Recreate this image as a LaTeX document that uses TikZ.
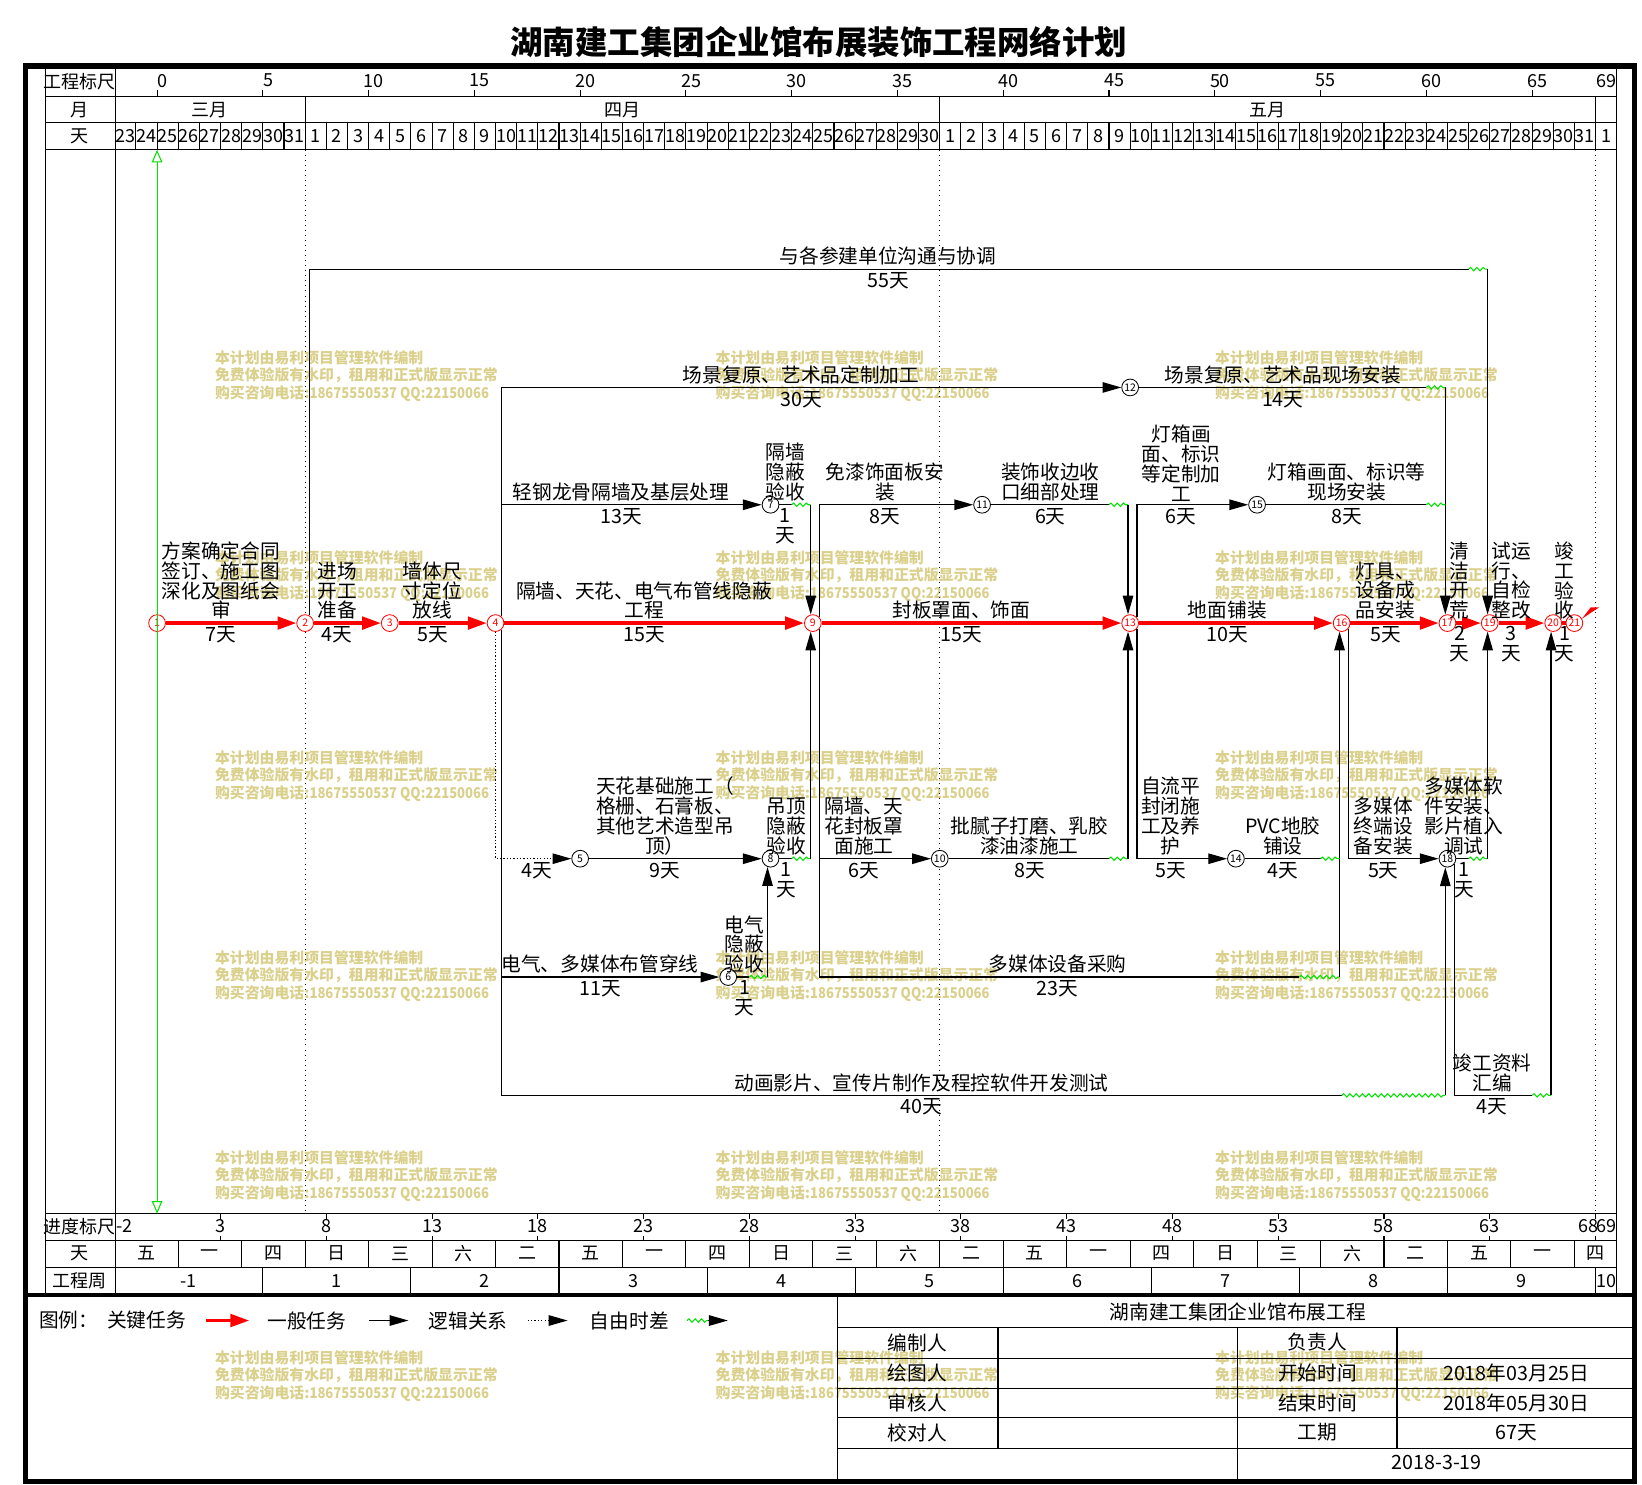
\documentclass[tikz,border=0pt]{standalone}
\usepackage{fontspec}
\setmainfont{Noto Sans CJK SC}
\usetikzlibrary{arrows.meta, decorations.pathmorphing}
\definecolor{wmark}{RGB}{218,208,140}
\definecolor{nowgreen}{RGB}{0,225,0}

\begin{document}
\begin{tikzpicture}[
  x=0.5pt, y=-0.5pt,
  >={Triangle[length=9pt,width=5pt]},
  every node/.style={font=\fontsize{9.4}{9.5}\selectfont, inner sep=0pt, align=center},
  ev/.style={circle, draw=black, fill=white, line width=0.4pt, minimum size=8pt, font=\fontsize{5}{5}\selectfont},
  crev/.style={ev, draw=red, text=red},
  job/.style={draw=black, line width=0.6pt},
  crit/.style={draw=red, line width=1.6pt, -{Triangle[length=9pt,width=6pt]}},
  flt/.style={draw=nowgreen, line width=0.5pt, decorate, decoration={snake, segment length=3pt, amplitude=0.8pt}},
  lnk/.style={draw=black, line width=0.6pt, densely dotted},
  lab/.style={anchor=south, yshift=1.5pt},
  dur/.style={anchor=north, yshift=-1.5pt},
  grid/.style={draw=black, line width=0.5pt},
  hdr/.style={font=\fontsize{8.6}{9}\selectfont},
  wm/.style={text=wmark, anchor=north west, align=left, font=\fontsize{7.1}{8.5}\selectfont\bfseries}]

  \useasboundingbox (0,0) rectangle (1568,1418);

  \foreach \wx in {205,683,1160}
    \foreach \wy in {334,525,716,907,1098,1289}
      \node[wm] (wm-\wx-\wy) at (\wx,\wy) {本计划由易利项目管理软件编制\\免费体验版有水印，租用和正式版显示正常\\购买咨询电话:\scalebox{0.88}[1]{18675550537 QQ:22150066}};

  \node (title) at (782,40) {\fontsize{15.5}{16}\selectfont\bfseries 湖南建工集团企业馆布展装饰工程网络计划};

  % frame and scales
  \draw[grid] (43,63) rectangle (1544,1237);
  \foreach \y in {92,117,143,1159,1185,1210} \draw[grid] (43,\y) -- (1544,\y);
  \draw[grid] (110,63) -- (110,1237);
  \draw[line width=2.5pt] (24,63) rectangle (1561,1415);
  \draw[line width=2pt] (24,1237) -- (1561,1237);

  \node[hdr] (sc-top) at (76,78) {工程标尺};
  \node[hdr] (mo) at (76,105) {月};
  \node[hdr] (dy) at (76,130) {天};
  \foreach \d in {0,5,...,65} {
    \draw[grid] ({150+20.2*\d},86) -- ({150+20.2*\d},92);
    \node[hdr] (top\d) at ({155+20.2*\d},77) {\d};
  }
  \node[hdr, anchor=east] (top69) at (1544,77) {69};
  \foreach \x in {291.4,897.4,1523.6} \draw[grid] (\x,92) -- (\x,117);
  \node[hdr] (m3) at (200.5,105) {三月};
  \node[hdr] (m4) at (594.4,105) {四月};
  \node[hdr] (m5) at (1210.5,105) {五月};
  \foreach \d in {-1,...,68} \draw[grid] ({150+20.2*\d},117) -- ({150+20.2*\d},143);
  \foreach \n in {23,...,31} \node[hdr] (mar\n) at ({160.1+20.2*(\n-25)},130) {\n};
  \foreach \n in {1,...,30} \node[hdr] (apr\n) at ({160.1+20.2*(\n+6)},130) {\n};
  \foreach \n in {1,...,31} \node[hdr] (may\n) at ({160.1+20.2*(\n+36)},130) {\n};
  \node[hdr] (jun1) at ({160.1+20.2*68},130) {1};

  \foreach \x in {291.4,897.4,1523.6} \draw[dotted, line width=0.4pt] (\x,143) -- (\x,1159);

  \node[hdr] (sc-bot) at (76,1171) {进度标尺};
  \node[hdr, anchor=west] (pb-2) at (111,1171) {-2};
  \foreach \d in {3,8,...,68} {
    \draw[grid] ({150+20.2*\d},1159) -- ++(0,5);
    \draw[grid] ({150+20.2*\d},1185) -- ++(0,-5);
  }
  \foreach \d in {3,8,...,63} \node[hdr] (pb\d) at ({150+20.2*\d},1171) {\d};
  \node[hdr, anchor=east] (pb68) at (1527,1171) {68};
  \node[hdr, anchor=east] (pb69) at (1544,1171) {69};

  \node[hdr] (wk) at (76,1197) {天};
  \foreach \w [count=\k from 0] in {五,一,四,日,三,六,二,五,一,四,日,三,六,二,五,一,四,日,三,六,二,五,一,四} {
    \pgfmathsetmacro\cx{min(139.9+60.6*\k,1523.6)}
    \node[hdr] (wd\k) at (\cx,1197) {\w};
  }
  \foreach \k in {0,...,22} \draw[grid] ({170.2+60.6*\k},1185) -- ({170.2+60.6*\k},1210);

  \node[hdr] (wkn) at (76,1223) {工程周};
  \foreach \x in {251,392.4,533.8,675.2,816.6,958,1099.4,1240.8,1382.2,1523.6} \draw[grid] (\x,1210) -- (\x,1237);
  \foreach \x/\w [count=\k] in {180.3/-1,321.7/1,463.1/2,604.5/3,745.9/4,887.3/5,1028.7/6,1170.1/7,1311.5/8,1452.9/9,1533.7/10}
    \node[hdr] (wn\k) at (\x,1223) {\w};

  % events
  \node[crev] (n1)  at (150,595)    {1};
  \node[crev] (n2)  at (291.4,595)  {2};
  \node[crev] (n3)  at (372.2,595)  {3};
  \node[crev] (n4)  at (473.2,595)  {4};
  \node[ev]   (n5)  at (554,820)    {5};
  \node[ev]   (n6)  at (695.4,933)  {6};
  \node[ev]   (n7)  at (735.8,482)  {7};
  \node[ev]   (n8)  at (735.8,820)  {8};
  \node[crev] (n9)  at (776.2,595)  {9};
  \node[ev]   (n10) at (897.4,820)  {10};
  \node[ev]   (n11) at (937.8,482)  {11};
  \node[ev]   (n12) at (1079.2,370) {12};
  \node[crev] (n13) at (1079.2,595) {13};
  \node[ev]   (n14) at (1180.2,820) {14};
  \node[ev]   (n15) at (1200.4,482) {15};
  \node[crev] (n16) at (1281.2,595) {16};
  \node[crev] (n17) at (1382.2,595) {17};
  \node[ev]   (n18) at (1382.2,820) {18};
  \node[crev] (n19) at (1422.6,595) {19};
  \node[crev] (n20) at (1483.2,595) {20};
  \node[crev] (n21) at (1503.4,595) {21};

  \path (n1) edge[crit] (n2)   (n2) edge[crit] (n3)   (n3) edge[crit] (n4)
        (n4) edge[crit] (n9)   (n9) edge[crit] (n13)  (n13) edge[crit] (n16)
        (n16) edge[crit] (n17) (n17) edge[crit] (n19) (n19) edge[crit] (n20)
        (n20) edge[crit,-] (n21);
  \fill[red] (n21.30) -- (1519,580) -- (1527,580) -- cycle;

  \draw[job] (n2.60) |- (1402.4,257) coordinate (f1);
  \draw[flt] (f1) -- (n19.104 |- f1);
  \draw[job,->] (n19.104 |- f1) -- (n19.104);

  \draw[job,->] (n4.50) |- (n12);
  \draw[job] (n12) -- (1362,370) coordinate (f2);
  \draw[flt] (f2) -- (n17.104 |- f2);
  \draw[job,->] (n17.104 |- f2) -- (n17.104);

  \draw[job,->] (n4.50) |- (n7);
  \draw[job] (n7) -- (756,482) coordinate (f3);
  \draw[flt] (f3) -- (n9.104 |- f3);
  \draw[job,->] (n9.104 |- f3) -- (n9.104);

  \draw[job,->] (n9.40) |- (n11);
  \draw[job] (n11) -- (1059,482) coordinate (f4);
  \draw[flt] (f4) -- (n13.104 |- f4);
  \draw[job,->] (n13.104 |- f4) -- (n13.104);

  \draw[job,->] (n13.40) |- (n15);
  \draw[job] (n15) -- (1362,482) coordinate (f5);
  \draw[flt] (f5) -- (n17.104 |- f5);

  \draw[lnk,->] (n4.south) |- (n5);
  \draw[job,->] (n5) -- (n8);
  \draw[job] (n8) -- (756,820) coordinate (f6);
  \draw[flt] (f6) -- (n9.256 |- f6);
  \draw[job,->] (n9.256 |- f6) -- (n9.256);

  \draw[job,->] (n4.-50) |- (n6);
  \draw[job] (n6) -- (715.6,933) coordinate (f7);
  \draw[flt] (f7) -- (n8.250 |- f7);
  \draw[job,->] (n8.250 |- f7) -- (n8.250);

  \draw[job,->] (n9.-40) |- (n10);
  \draw[job] (n10) -- (1059,820) coordinate (f8);
  \draw[flt] (f8) -- (n13.256 |- f8);
  \draw[job,->] (n13.256 |- f8) -- (n13.256);

  \draw[job] (n9.-40) |- (1240.8,933) coordinate (f9);
  \draw[flt] (f9) -- (n16.256 |- f9);
  \draw[job,->] (n16.256 |- f9) -- (n16.256);

  \draw[job,->] (n13.-40) |- (n14);
  \draw[job] (n14) -- (1261,820) coordinate (f10);
  \draw[flt] (f10) -- (n16.256 |- f10);

  \draw[job,->] (n16.-40) |- (n18);
  \draw[job] (n18) -- (1402.4,820) coordinate (f11);
  \draw[flt] (f11) -- (n19.256 |- f11);
  \draw[job,->] (n19.256 |- f11) -- (n19.256);

  \draw[job] (n4.-50) |- (1281.2,1046) coordinate (f12);
  \draw[flt] (f12) -- (n18.256 |- f12);
  \draw[job,->] (n18.256 |- f12) -- (n18.256);

  \draw[job] (n18.-40) |- (1463,1046) coordinate (f13);
  \draw[flt] (f13) -- (n20.256 |- f13);
  \draw[job,->] (n20.256 |- f13) -- (n20.256);

  \coordinate (now-t) at (150,143);
  \coordinate (now-b) at (150,1159);
  \draw[nowgreen, line width=0.5pt, {Triangle[open,length=6pt,width=5pt]}-{Triangle[open,length=6pt,width=5pt]}] (now-t) -- (now-b);

  % task texts
  \foreach \x/\y/\tx/\du [count=\i] in {
    211/595/{方案确定合同\\签订、施工图\\深化及图纸会\\审}/7天,
    322/595/{进场\\开工\\准备}/4天,
    413/595/{墙体尺\\寸定位\\放线}/5天,
    615/595/{隔墙、天花、电气布管线隐蔽\\工程}/15天,
    918/595/{封板罩面、饰面}/15天,
    1172/595/{地面铺装}/10天,
    1323/595/{灯具、\\设备成\\品安装}/5天,
    1394/595/{清\\洁\\开\\荒}/{2\\天},
    1443/595/{试运\\行、\\自检\\整改}/{3\\天},
    1494/595/{竣\\工\\验\\收}/{1\\天},
    848/257/{与各参建单位沟通与协调}/55天,
    765/370/{场景复原、艺术品定制加工}/30天,
    1225/370/{场景复原、艺术品现场安装}/14天,
    593/482/{轻钢龙骨隔墙及基层处理}/13天,
    750/482/{隔墙\\隐蔽\\验收}/{1\\天},
    845/482/{免漆饰面板安\\装}/8天,
    1003/482/{装饰收边收\\口细部处理}/6天,
    1128/482/{灯箱画\\面、标识\\等定制加\\工}/6天,
    1286/482/{灯箱画面、标识等\\现场安装}/8天,
    513/820/{}/4天,
    635/820/{天花基础施工（\\格栅、石膏板、\\其他艺术造型吊\\顶）}/9天,
    751/820/{吊顶\\隐蔽\\验收}/{1\\天},
    825/820/{隔墙、天\\花封板罩\\面施工}/6天,
    983/820/{批腻子打磨、乳胶\\漆油漆施工}/8天,
    1118/820/{自流平\\封闭施\\工及养\\护}/5天,
    1225/820/{PVC地胶\\铺设}/4天,
    1321/820/{多媒体\\终端设\\备安装}/5天,
    1398/820/{多媒体软\\件安装、\\影片植入\\调试}/{1\\天},
    573/933/{电气、多媒体布管穿线}/11天,
    711/933/{电气\\隐蔽\\验收}/{1\\天},
    1010/933/{多媒体设备采购}/23天,
    880/1046/{动画影片、宣传片制作及程控软件开发测试}/40天,
    1425/1046/{竣工资料\\汇编}/4天}{
    \node[lab] (t\i) at (\x,\y) {\tx};
    \node[dur] (d\i) at (\x,\y) {\du};
  }

  % legend
  \node[anchor=west] (lg)  at (37,1261)  {图例：};
  \node[anchor=west] (lg1) at (102,1261) {关键任务};
  \coordinate (lg1a) at (197,1261);
  \coordinate (lg1b) at (238,1261);
  \draw[crit] (lg1a) -- (lg1b);
  \node[anchor=west] (lg2) at (255,1261) {一般任务};
  \coordinate (lg2a) at (352,1261);
  \coordinate (lg2b) at (390,1261);
  \draw[job,->] (lg2a) -- (lg2b);
  \node[anchor=west] (lg3) at (409,1261) {逻辑关系};
  \coordinate (lg3a) at (504,1261);
  \coordinate (lg3b) at (542,1261);
  \draw[lnk,->] (lg3a) -- (lg3b);
  \node[anchor=west] (lg4) at (563,1261) {自由时差};
  \coordinate (lg4a) at (656,1261);
  \coordinate (lg4b) at (676,1261);
  \coordinate (lg4c) at (695,1261);
  \draw[flt] (lg4a) -- (lg4b);
  \draw[job,->] (lg4b) -- (lg4c);

  % info table
  \draw[grid] (800,1237) -- (800,1415);
  \foreach \y in {1268,1297,1326,1354,1383} \draw[grid] (800,\y) -- (1561,\y);
  \draw[grid] (953,1268) -- (953,1383);
  \draw[grid] (1182,1268) -- (1182,1415);
  \draw[grid] (1334,1268) -- (1334,1383);
  \node (info) at (1182,1253) {湖南建工集团企业馆布展工程};
  \foreach \y/\a/\b/\c [count=\k] in {1282/编制人/负责人/{}, 1311/绘图人/开始时间/2018年03月25日, 1340/审核人/结束时间/2018年05月30日, 1368/校对人/工期/67天} {
    \node (ia\k) at (876,\y) {\a};
    \node (ib\k) at (1258,\y) {\b};
    \node (ic\k) at (1448,\y) {\c};
  }
  \node (date) at (1372,1397) {2018-3-19};

\end{tikzpicture}
\end{document}
